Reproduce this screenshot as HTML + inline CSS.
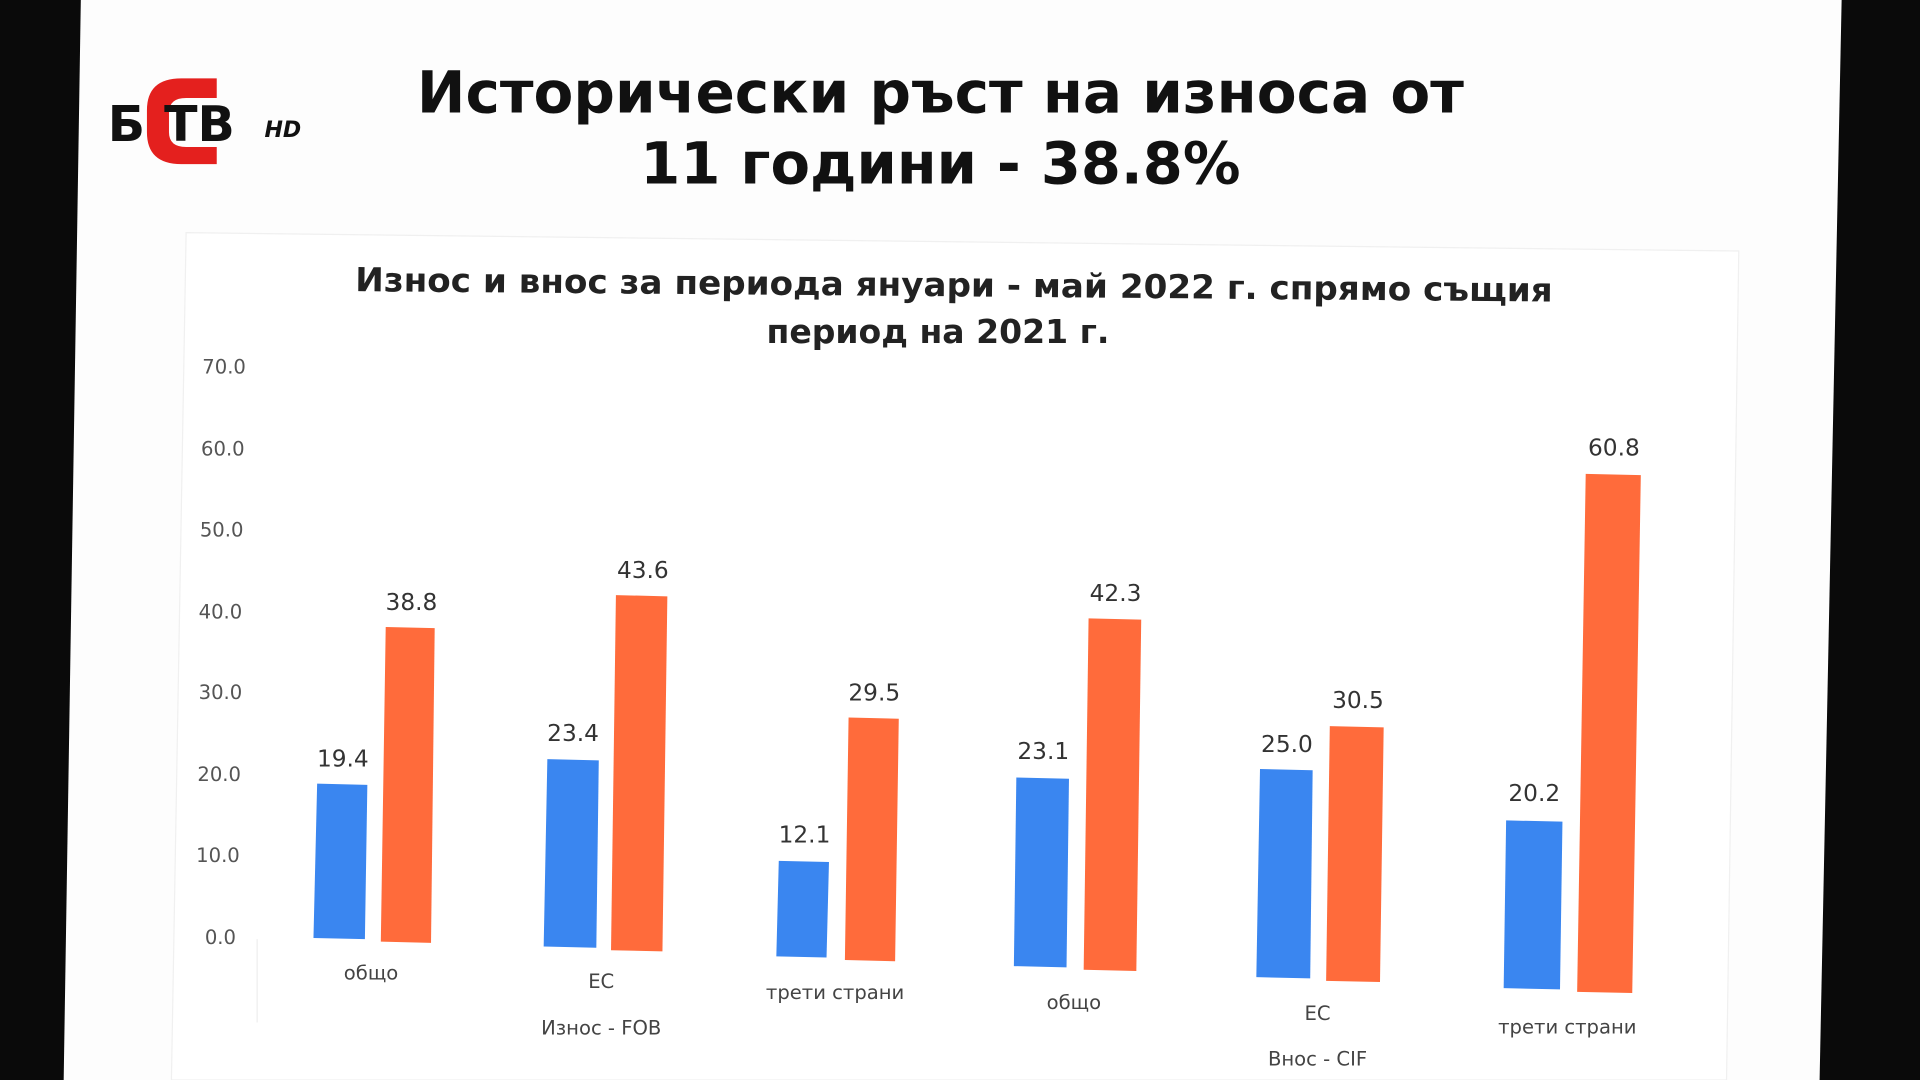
<!DOCTYPE html>
<html><head><meta charset="utf-8"><style>
html,body{margin:0;padding:0;background:#000;overflow:hidden;width:1920px;height:1080px}
svg{display:block}
text{font-family:"DejaVu Sans","Liberation Sans",sans-serif}
</style></head><body>
<svg width="1920" height="1080" viewBox="0 0 1568 882" preserveAspectRatio="none">
<rect width="1568" height="882" fill="#0a0a0a"/>
<polygon points="66,0 1504,0 1486,882 52,882" fill="#fdfdfd"/>
<polygon points="152,190 1420,205 1410,882 140,882" fill="#ffffff" stroke="#f0f0f0"/>
<!-- logo -->
<path d="M177,64 L148,64 Q120,64 120,90 L120,108 Q120,134 148,134 L177,134 L177,120 L152,120 Q138,120 138,108 L138,92 Q138,80 152,80 L177,80 Z" fill="#e4201e"/>
<text x="88" y="115" font-size="40" font-weight="bold" fill="#111" font-family="Liberation Sans,sans-serif">Б</text>
<text x="134" y="115" font-size="40" font-weight="bold" fill="#111" font-family="Liberation Sans,sans-serif">ТВ</text>
<text x="216" y="112" font-size="18" font-weight="bold" font-style="italic" fill="#111">HD</text>
<!-- titles -->
<text x="768" y="92" font-size="47" font-weight="bold" fill="#111" text-anchor="middle" textLength="855" lengthAdjust="spacingAndGlyphs">Исторически ръст на износа от</text>
<text x="768" y="150" font-size="47" font-weight="bold" fill="#111" text-anchor="middle">11 години - 38.8%</text>
<text x="779" y="242" font-size="27" font-weight="bold" fill="#222" text-anchor="middle" textLength="978" lengthAdjust="spacingAndGlyphs" transform="rotate(0.5 778 242)">Износ и внос за периода януари - май 2022 г. спрямо същия</text>
<text x="766" y="280" font-size="27" font-weight="bold" fill="#222" text-anchor="middle">период на 2021 г.</text>
<!-- y axis -->
<g font-size="16" fill="#555" text-anchor="middle">
<text x="183" y="305">70.0</text><text x="182" y="372">60.0</text><text x="181" y="438">50.0</text>
<text x="180" y="505">40.0</text><text x="180" y="571">30.0</text><text x="179" y="638">20.0</text>
<text x="178" y="704">10.0</text><text x="180" y="771">0.0</text>
</g>
<line x1="210" y1="767" x2="210" y2="835" stroke="#eee"/>
<!-- bars -->
<g fill="#3a86f0">
<polygon points="259,640 300,641 298,767 256,766"/>
<polygon points="447,620 489,621 487,774 444,773"/>
<polygon points="636,703 677,704 675,782 634,781"/>
<polygon points="830,635 873,636 871,790 828,789"/>
<polygon points="1029,628 1072,629 1070,799 1026,798"/>
<polygon points="1230,670 1276,671 1274,808 1228,807"/>
</g>
<g fill="#ff6b3b">
<polygon points="315,512 355,513 352,770 311,769"/>
<polygon points="503,486 545,487 541,777 499,776"/>
<polygon points="693,586 734,587 731,785 690,784"/>
<polygon points="889,505 932,506 928,793 885,792"/>
<polygon points="1086,593 1130,594 1127,802 1083,801"/>
<polygon points="1295,387 1340,388 1333,811 1288,810"/>
</g>
<g font-size="19" fill="#333" text-anchor="middle">
<text x="280" y="626">19.4</text><text x="336" y="498">38.8</text>
<text x="468" y="605">23.4</text><text x="525" y="472">43.6</text>
<text x="657" y="688">12.1</text><text x="714" y="572">29.5</text>
<text x="852" y="620">23.1</text><text x="911" y="491">42.3</text>
<text x="1051" y="614">25.0</text><text x="1109" y="578">30.5</text>
<text x="1253" y="654">20.2</text><text x="1318" y="372">60.8</text>
</g>
<g font-size="16" fill="#444" text-anchor="middle">
<text x="303" y="800">общо</text><text x="491" y="807">ЕС</text><text x="682" y="816">трети страни</text>
<text x="877" y="824">общо</text><text x="1076" y="833">ЕС</text><text x="1280" y="844">трети страни</text>
<text x="491" y="845">Износ - FOB</text><text x="1076" y="870">Внос - CIF</text>
</g>
</svg>
</body></html>
